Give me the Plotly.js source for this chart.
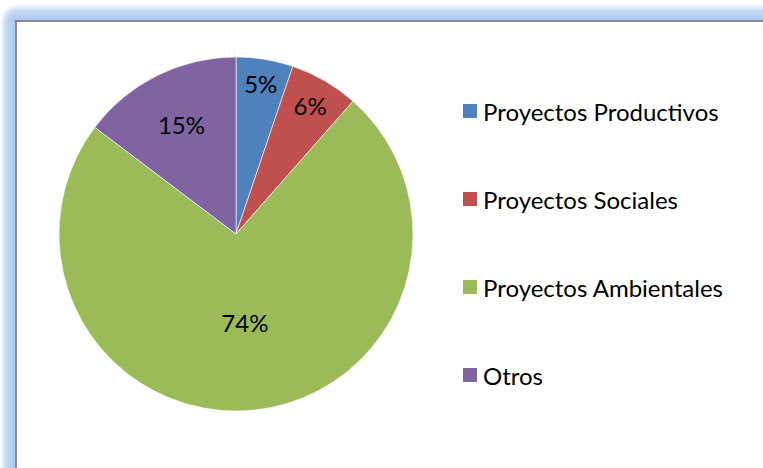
<!DOCTYPE html>
<html>
<head>
<meta charset="utf-8">
<script src="https://cdn.plot.ly/plotly-3.0.1.min.js"></script>
<style>
html,body{margin:0;padding:0;background:#fff;overflow:hidden;}
#wrap{position:absolute;left:0;top:0;width:763px;height:468px;overflow:hidden;background:#fff;}
#glowL{position:absolute;left:0;top:20px;width:15px;height:600px;background:linear-gradient(to right, rgba(190,215,245,0) 0px, rgba(175,205,242,0.75) 6px, #a9c9f1 15px);}
#glowT{position:absolute;left:15px;top:4px;width:900px;height:16px;background:linear-gradient(to bottom, rgba(190,215,245,0) 0px, rgba(175,205,242,0.75) 7px, #a9c9f1 16px);}
#glowC{position:absolute;left:0;top:4px;width:15px;height:16px;background:radial-gradient(circle at 100% 100%, #a9c9f1 0px, rgba(175,205,242,0.75) 8px, rgba(190,215,245,0) 15px);}
#frame{position:absolute;left:15px;top:20px;width:900px;height:600px;border-left:2px solid #8a8a8a;border-top:2px solid #8a8a8a;background:#fff;}
#chart{position:absolute;left:0;top:0;width:763px;height:468px;}
</style>
</head>
<body>
<div id="wrap">
<div id="glowL"></div>
<div id="glowT"></div>
<div id="glowC"></div>
<div id="frame"></div>
<div id="chart"></div>
</div>
<script>
const categories = ["Proyectos Productivos", "Proyectos Sociales", "Proyectos Ambientales", "Otros"];
const values = [5.2, 6.3, 73.8, 14.7];
const colors = ["#4F81BD", "#C0504D", "#9BBB59", "#8064A2"];

const W = 763, H = 468;
const FONT = "Lato, 'Open Sans', sans-serif";

const trace = {
  type: "pie",
  labels: categories,
  values: values,
  sort: false,
  direction: "clockwise",
  rotation: 0,
  marker: {colors: colors, line: {color: "rgba(255,255,255,0.6)", width: 1}},
  textinfo: "percent",
  texttemplate: "%{percent:.0%}",
  textposition: "inside",
  insidetextorientation: "horizontal",
  textfont: {family: FONT, size: 24, color: "#000"},
  hoverinfo: "label+percent",
  showlegend: false,
  domain: {x: [(236 - 177) / W, (236 + 177) / W], y: [1 - 411 / H, 1 - 57 / H]}
};

// custom legend built from the category arrays
const legendX = 463 / W, legendTop = 111, legendStep = 88;
const shapes = [], annotations = [];
categories.forEach((c, i) => {
  const yc = legendTop + i * legendStep;
  shapes.push({type: "rect", xref: "paper", yref: "paper",
    x0: legendX, x1: (463 + 14) / W, y0: 1 - (yc + 7) / H, y1: 1 - (yc - 7) / H,
    fillcolor: colors[i], line: {width: 0}});
  annotations.push({xref: "paper", yref: "paper", x: 481 / W, y: 1 - yc / H,
    xanchor: "left", yanchor: "middle", showarrow: false, text: c,
    font: {family: FONT, size: 24, color: "#000"}});
});

const layout = {
  width: W, height: H,
  margin: {l: 0, r: 0, t: 0, b: 0},
  paper_bgcolor: "rgba(0,0,0,0)",
  plot_bgcolor: "rgba(0,0,0,0)",
  uniformtext: {minsize: 24, mode: "show"},
  shapes: shapes,
  annotations: annotations,
  showlegend: false
};

Plotly.newPlot("chart", [trace], layout, {displayModeBar: false, staticPlot: true});
</script>
</body>
</html>
